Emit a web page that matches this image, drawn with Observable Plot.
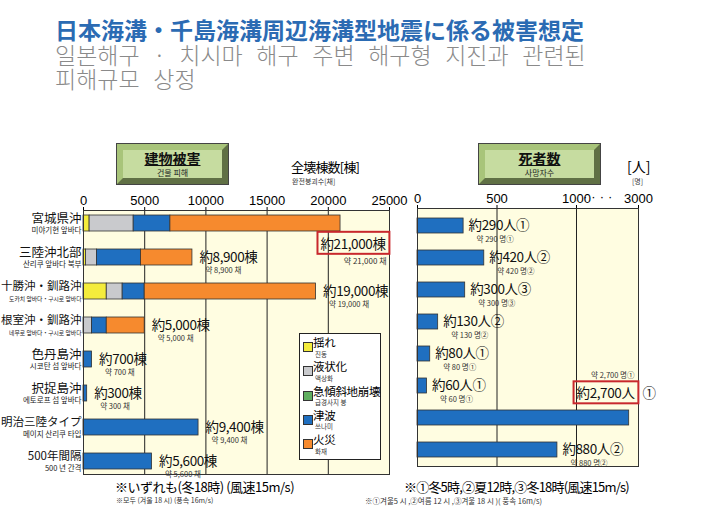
<!DOCTYPE html>
<html><head><meta charset="utf-8">
<script src="https://cdn.jsdelivr.net/npm/d3@7"></script>
<script src="https://cdn.jsdelivr.net/npm/@observablehq/plot@0.6"></script>
<style>
body{margin:0;background:#fff;}
#wrap{position:relative;width:717px;height:530px;overflow:hidden;background:#fff;font-family:"Noto Sans CJK JP","Noto Sans",sans-serif;}
.abs{position:absolute;white-space:nowrap;line-height:1.4;}
.kr{font-family:"Noto Sans CJK KR","Noto Sans",sans-serif;}
.chart{position:absolute;top:0;}
.hdr{position:absolute;box-sizing:border-box;border:1px solid #444;}
.hdr .bev{position:absolute;inset:0;border:6px outset #a8c47a;background:#c6dca0;box-sizing:border-box;}
.hdr .t1{position:absolute;left:0;right:0;text-align:center;font-weight:bold;font-size:14px;text-decoration:underline;line-height:1;color:#111;}
.hdr .t2{position:absolute;left:0;right:0;text-align:center;font-size:8px;line-height:1;color:#222;}
#legend{position:absolute;left:299px;top:333px;width:82px;height:127px;border:1px solid #222;background:#fff;box-sizing:border-box;}
.sw{position:absolute;width:8px;height:8px;border:1px solid #333;}
svg g[font-size="13.5"] text{letter-spacing:-0.4px;}
</style></head>
<body><div id="wrap"></div>
<script>
// ---------- data ----------
const regionsJa = ["宮城県沖","三陸沖北部","十勝沖・釧路沖","根室沖・釧路沖","色丹島沖","択捉島沖","明治三陸タイプ","500年間隔"];
const regionsKo = ["미야기현 앞바다","산리쿠 앞바다 북부","도카치 앞바다・구시로 앞바다","네무로 앞바다・구시로 앞바다","시코탄 섬 앞바다","에토로프 섬 앞바다","메이지 산리쿠 타입","500 년 간격"];
const damageTypesJa = ["揺れ","液状化","急傾斜地崩壊","津波","火災"];
const damageTypesKo = ["진동","액상화","급경사지 붕","쓰나미","화재"];
const shaking      = [500, 200, 1900, 0, 0, 0, 0, 0];
const liquefaction = [3600, 900, 1300, 700, 0, 0, 0, 0];
const landslide    = [0, 0, 0, 0, 0, 0, 0, 0];
const tsunami      = [3000, 3600, 1800, 1200, 700, 300, 9400, 5600];
const fire         = [13900, 4200, 14000, 3100, 0, 0, 0, 0];
const buildingTotals = [21000, 8900, 19000, 5000, 700, 300, 9400, 5600];
const deaths = [290, 420, 300, 130, 80, 60, 2700, 880];
const deathScenario = ["①","②","③","②","①","①","①","②"];
const leftTicks = [0, 5000, 10000, 15000, 20000, 25000];
const rightTicks = [0, 500, 1000, 3000];

// ---------- styles ----------
const colors = ["#f4ec3c", "#c9cacd", "#5fae5f", "#1f6fc0", "#f68a2e"];
const JP = "Noto Sans CJK JP", KR = "Noto Sans CJK KR";
const fmt = d3.format(",");
const wrap = document.getElementById("wrap");

function addText(txt, left, cy, fs, opts = {}) {
  const d = document.createElement("div");
  d.className = "abs" + (opts.kr ? " kr" : "");
  d.textContent = txt;
  d.style.left = left + "px";
  const lh = opts.lh ? parseFloat(opts.lh) : 1.4;
  d.style.lineHeight = lh;
  d.style.top = (cy - (lh / 2 + 0.06) * fs) + "px";
  d.style.fontSize = fs + "px";
  if (opts.color) d.style.color = opts.color;
  if (opts.weight) d.style.fontWeight = opts.weight;
  if (opts.ls) d.style.letterSpacing = opts.ls;
  if (opts.ws) d.style.wordSpacing = opts.ws;
  if (opts.family) d.style.fontFamily = opts.family;
  wrap.appendChild(d);
  return d;
}

// ---------- left chart ----------
const series = [shaking, liquefaction, landslide, tsunami, fire];
const stackData = regionsJa.flatMap((r, i) => series.map((arr, k) => ({region: r, type: damageTypesJa[k], value: arr[i]}))).filter(d => d.value > 0);
const leftRows = regionsJa.map((r, i) => ({region: r, ko: regionsKo[i], total: buildingTotals[i]}));
const maxB = d3.max(buildingTotals);
const leftNormal = leftRows.filter(d => d.total < maxB);
const leftHL = leftRows.filter(d => d.total === maxB);

const left = Plot.plot({
  width: 410, height: 530, marginLeft: 83, marginRight: 21, marginTop: 210, marginBottom: 56,
  style: {background: "transparent", fontFamily: "Liberation Sans", fontSize: "13px", color: "#000", overflow: "visible"},
  x: {domain: [0, 25000], axis: null},
  y: {domain: regionsJa, axis: null, paddingInner: 0.53, paddingOuter: 0.12},
  color: {domain: damageTypesJa, range: colors},
  marks: [
    Plot.frame({fill: "#fffde1"}),
    Plot.ruleX(leftTicks.slice(1, -1), {stroke: "#222", strokeWidth: 1}),
    Plot.axisX({anchor: "top", label: null, ticks: leftTicks, tickFormat: d => String(d), tickSize: 4, tickPadding: 2, fontSize: 13}),
    Plot.barX(stackData, Plot.stackX({x: "value", y: "region", fill: "type", stroke: "#333", strokeWidth: 0.8})),
    Plot.frame({stroke: "#333"}),
    Plot.text(leftRows, {y: "region", frameAnchor: "left", text: "region", textAnchor: "end", dx: -2, dy: -5, fontFamily: JP, fontSize: d => d.region.length > 5 ? 11.5 : 12.5, fill: "#111"}),
    Plot.text(leftRows, {y: "region", frameAnchor: "left", text: "ko", textAnchor: "end", dx: -2, dy: 7.5, fontFamily: KR, fontSize: d => d.ko.length > 12 ? 5.8 : 7.5, fill: "#222"}),
    Plot.text(leftNormal, {x: "total", y: "region", text: d => "約" + fmt(d.total) + "棟", textAnchor: "start", dx: 7, dy: 0, fontFamily: JP, fontSize: 13.5, fill: "#111"}),
    Plot.text(leftNormal, {x: "total", y: "region", text: d => "약 " + fmt(d.total) + " 채", textAnchor: "start", dx: 13, dy: 13, fontFamily: KR, fontSize: 7.5, fill: "#333"}),
    Plot.text(leftHL, {y: "region", frameAnchor: "right", text: d => "約" + fmt(d.total) + "棟", textAnchor: "end", dx: -4, dy: 21, fontFamily: JP, fontSize: 13.5, fill: "#111"}),
    Plot.text(leftHL, {y: "region", frameAnchor: "right", text: d => "약 " + fmt(d.total) + " 채", textAnchor: "end", dx: -3, dy: 38, fontFamily: KR, fontSize: 8, fill: "#333"})
  ]
});
left.classList.add("chart");
left.style.left = "0px";
wrap.appendChild(left);

// ---------- right chart ----------
const rightRows = regionsJa.map((r, i) => ({region: r, v: deaths[i], c: deathScenario[i]}));
const maxD = d3.max(deaths);
const rightNormal = rightRows.filter(d => d.v < maxD);
const rightHL = rightRows.filter(d => d.v === maxD);

const right = Plot.plot({
  width: 317, height: 530, marginLeft: 17, marginRight: 79, marginTop: 208, marginBottom: 64,
  style: {background: "transparent", fontFamily: "Liberation Sans", fontSize: "13px", color: "#000", overflow: "visible"},
  x: {type: "linear", domain: [0, 1000, 3000], range: [17, 176, 238], axis: null},
  y: {domain: regionsJa, axis: null, paddingInner: 0.54, paddingOuter: 0.2},
  marks: [
    Plot.frame({fill: "#fffde1"}),
    Plot.ruleX(rightTicks.slice(1, -1), {stroke: "#222", strokeWidth: 1}),
    Plot.axisX({anchor: "top", label: null, ticks: rightTicks, tickFormat: d => String(d), tickSize: 4, tickPadding: 2, fontSize: 13}),
    Plot.barX(rightRows, {x: "v", y: "region", fill: colors[3], stroke: "#333", strokeWidth: 0.8}),
    Plot.frame({stroke: "#333"}),
    Plot.text(rightNormal, {x: "v", y: "region", text: d => "約" + fmt(d.v) + "人" + d.c, textAnchor: "start", dx: 5, dy: 0, fontFamily: JP, fontSize: 13.5, fill: "#111"}),
    Plot.text(rightNormal, {x: "v", y: "region", text: d => "약 " + fmt(d.v) + " 명" + d.c, textAnchor: "start", dx: 13, dy: 13.5, fontFamily: KR, fontSize: 7.5, fill: "#333"}),
    Plot.text(rightHL, {y: "region", frameAnchor: "right", text: d => "約" + fmt(d.v) + "人", textAnchor: "end", dx: -4, dy: -24, fontFamily: JP, fontSize: 13.5, fill: "#111"}),
    Plot.text(rightHL, {y: "region", frameAnchor: "right", text: "c", textAnchor: "start", dx: 4, dy: -24, fontFamily: JP, fontSize: 13.5, fill: "#111"}),
    Plot.text(rightHL, {y: "region", frameAnchor: "right", text: d => "약 " + fmt(d.v) + " 명" + d.c, textAnchor: "end", dx: -4, dy: -42, fontFamily: KR, fontSize: 7.5, fill: "#333"})
  ]
});
right.classList.add("chart");
right.style.left = "400px";
wrap.appendChild(right);

// red highlight boxes around the maximum values
function boxify(svg, label) {
  svg.querySelectorAll("text").forEach(t => {
    if (t.textContent !== label) return;
    const b = t.getBBox();
    const r = document.createElementNS("http://www.w3.org/2000/svg", "rect");
    r.setAttribute("x", b.x - 3); r.setAttribute("y", b.y - 1);
    r.setAttribute("width", b.width + 6); r.setAttribute("height", b.height + 2);
    r.setAttribute("fill", "none"); r.setAttribute("stroke", "#c8282d"); r.setAttribute("stroke-width", 2);
    if (t.getAttribute("transform")) r.setAttribute("transform", t.getAttribute("transform"));
    t.parentNode.insertBefore(r, t);
  });
}
boxify(left, "約" + fmt(maxB) + "棟");
boxify(right, "約" + fmt(maxD) + "人");

// ---------- titles ----------
addText("日本海溝・千島海溝周辺海溝型地震に係る被害想定", 55, 30, 23, {weight: "bold", color: "#2b6bb3", lh: "1.05"});
addText("일본해구 · 치시마 해구 주변 해구형 지진과 관련된", 55, 56, 23, {kr: true, color: "#8a8a8a", weight: 300, ws: "8.5px", lh: "1.0"});
addText("피해규모 상정", 55, 80, 23, {kr: true, color: "#8a8a8a", weight: 300, ws: "8.5px", lh: "1.0"});

// ---------- header boxes ----------
function header(x, w, t1, t2) {
  const h = document.createElement("div");
  h.className = "hdr";
  h.style.left = x + "px"; h.style.top = "143px"; h.style.width = w + "px"; h.style.height = "42px";
  h.innerHTML = `<div class="bev"></div><div class="t1" style="top:7px">${t1}</div><div class="t2 kr" style="top:25px">${t2}</div>`;
  wrap.appendChild(h);
}
header(116, 113, "建物被害", "건물 피해");
header(478, 123, "死者数", "사망자수");

// axis unit labels
addText("全壊棟数[棟]", 291, 168, 13, {ls: "-0.8px", lh: "1.1"});
addText("완전붕괴수[채]", 292, 182, 7, {kr: true, color: "#333", lh: "1.1"});
addText("[人]", 627, 168, 14, {lh: "1.1"});
addText("[명]", 632, 182, 7, {kr: true, color: "#333", lh: "1.1"});
addText("····", 583, 198, 13, {ls: "4px", family: "Liberation Sans"});

// ---------- legend ----------
const lg = document.createElement("div");
lg.id = "legend";
wrap.appendChild(lg);
damageTypesJa.forEach((t, i) => {
  const top = 4 + i * 24.3;
  const sw = document.createElement("div");
  sw.className = "sw"; sw.style.left = "3px"; sw.style.top = (top + 4) + "px"; sw.style.background = colors[i];
  lg.appendChild(sw);
  const a = document.createElement("div");
  a.className = "abs"; a.textContent = t; a.style.left = "13px"; a.style.top = (top - 3) + "px"; a.style.fontSize = "11.5px"; a.style.letterSpacing = "-0.3px"; a.style.lineHeight = "1.3";
  lg.appendChild(a);
  const b = document.createElement("div");
  b.className = "abs kr"; b.textContent = damageTypesKo[i]; b.style.left = "15px"; b.style.top = (top + 12.5) + "px"; b.style.fontSize = "6.5px"; b.style.color = "#333"; b.style.lineHeight = "1.1";
  lg.appendChild(b);
});

// ---------- notes ----------
addText("※いずれも(冬18時) (風速15m/s)", 115, 488, 13, {ls: "-0.5px", lh: "1.2"});
addText("※모두 (겨울 18 시) (풍속 16m/s)", 116, 501, 7, {kr: true, color: "#333", lh: "1.2"});
addText("※①冬5時,②夏12時,③冬18時(風速15m/s)", 404, 488, 13, {ls: "-0.8px", lh: "1.2"});
addText("※①겨울5 시 ,②여름 12 시 ,③겨울 18 시 )( 풍속 16m/s)", 365, 501, 7.5, {kr: true, color: "#333", lh: "1.2"});
</script>
</body></html>
